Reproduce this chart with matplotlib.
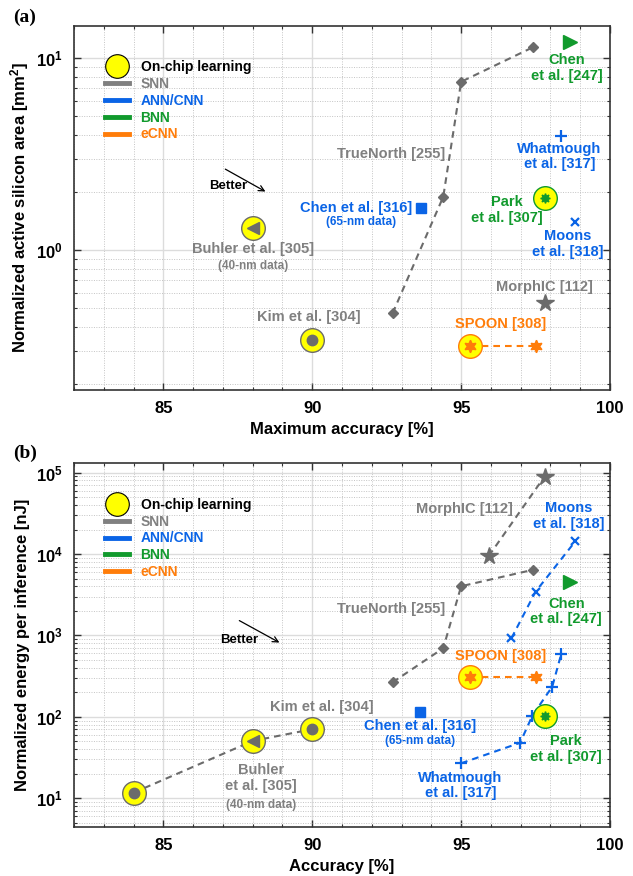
import matplotlib
matplotlib.use("Agg")
import matplotlib.pyplot as plt
from matplotlib.lines import Line2D
from matplotlib.ticker import MultipleLocator, LogLocator, NullFormatter

plt.rcParams['font.family'] = ['Liberation Sans', 'DejaVu Sans']
plt.rcParams['font.weight'] = 'bold'
plt.rcParams['mathtext.fontset'] = 'custom'
plt.rcParams['mathtext.rm'] = 'Liberation Sans:bold'
plt.rcParams['mathtext.bf'] = 'Liberation Sans:bold'
plt.rcParams['mathtext.it'] = 'Liberation Sans:bold'
plt.rcParams['mathtext.default'] = 'bf'

GRAY = '#808080'
GRAYM = '#6b6b6b'
BLUE = '#0a64e6'
GREEN = '#119a2d'
ORANGE = '#ff7d0a'
YELLOW = '#ffff00'

# ---------------- data: panel (a) area ----------------
a_truenorth_x = [92.7, 94.4, 95.0, 97.4]
a_truenorth_y = [0.47, 1.90, 7.55, 11.4]
a_kim = (90.0, 0.34)
a_buhler = (88.0, 1.31)
a_morphic = (97.8, 0.53)
a_spoon_x = [95.3, 97.5]
a_spoon_y = [0.317, 0.317]
a_chen316 = (93.66, 1.67)
a_whatmough = (98.36, 3.93)
a_moons = (98.84, 1.41)
a_park = (97.82, 1.87)
a_chen247 = (98.66, 12.2)

# ---------------- data: panel (b) energy ----------------
b_onchip_snn_x = [84.0, 88.0, 90.0]
b_onchip_snn_y = [11.7, 50.6, 70.5]
b_truenorth_x = [92.7, 94.4, 95.0, 97.4]
b_truenorth_y = [266, 697, 4020, 6380]
b_morphic_x = [95.93, 97.8]
b_morphic_y = [9480, 89300]
b_moons_x = [96.69, 97.5, 98.84]
b_moons_y = [925, 3450, 14400]
b_whatmough_x = [95.0, 96.98, 97.39, 98.06, 98.36]
b_whatmough_y = [26.9, 48, 103, 235, 588]
b_spoon_x = [95.3, 97.5]
b_spoon_y = [312, 312]
b_chen316 = (93.62, 114)
b_park = (97.82, 103)
b_chen247 = (98.66, 4500)

legend_labels = ['On-chip learning', 'SNN', 'ANN/CNN', 'BNN', 'eCNN']
legend_colors = ['black', GRAY, BLUE, GREEN, ORANGE]

fig = plt.figure(figsize=(6.33, 8.76), dpi=100)
axA = fig.add_axes([0.1169, 0.5548, 0.8468, 0.4159])
axB = fig.add_axes([0.1169, 0.0556, 0.8468, 0.4155])

HEX = (6, 1, 0)
AST = (8, 1, 0)
LS = (0, (3.2, 2.4))
LW = 1.5


def onchip(ax, x, y, edge):
    ax.plot([x], [y], 'o', ms=17, mfc=YELLOW, mec=edge, mew=1.0, zorder=3, ls='none')


def style(ax, ylim, xlabel, ylabel):
    ax.set_yscale('log')
    ax.set_xlim(82, 100)
    ax.set_ylim(*ylim)
    ax.xaxis.set_major_locator(MultipleLocator(5))
    ax.xaxis.set_minor_locator(MultipleLocator(1))
    ax.yaxis.set_major_locator(LogLocator(base=10))
    ax.yaxis.set_minor_locator(LogLocator(base=10, subs=range(2, 10)))
    ax.yaxis.set_minor_formatter(NullFormatter())
    ax.grid(True, which='major', color='#dcdcdc', lw=1.0, ls='-')
    ax.grid(True, which='minor', color='#c4c4c4', lw=0.7, ls=(0, (1, 1.5)))
    ax.set_axisbelow(True)
    ax.tick_params(which='both', direction='in', top=True, right=True, color='#333333')
    ax.tick_params(which='major', length=5, width=1.0, labelsize=12, pad=8)
    ax.tick_params(which='minor', length=2.5, width=0.8)
    for s in ax.spines.values():
        s.set_color('#333333')
        s.set_linewidth(1.2)
    ax.set_xlabel(xlabel, fontsize=12, fontweight='bold', labelpad=4)
    ax.set_ylabel(ylabel, fontsize=12, fontweight='bold', labelpad=4)
    for t in ax.get_xticklabels() + ax.get_yticklabels():
        t.set_fontweight('bold')
    handles = [Line2D([], [], marker='o', ms=17, mfc=YELLOW, mec='k', mew=0.8, ls='none')]
    for c in legend_colors[1:]:
        handles.append(Line2D([], [], color=c, lw=3.5))
    leg = ax.legend(handles, legend_labels, loc='upper left', bbox_to_anchor=(0.058, 0.905),
                    frameon=False, handlelength=1.75, handletextpad=0.8,
                    labelspacing=0.2, borderpad=0, borderaxespad=0,
                    prop={'weight': 'bold', 'size': 10})
    for t, c in zip(leg.get_texts(), legend_colors):
        t.set_color(c)


def txt(ax, x, y, s, c, size=10):
    ax.text(x, y, s, color=c, fontsize=size, fontweight='bold', ha='center', va='center',
            multialignment='center', linespacing=1.15)


# ---------------- panel (a) ----------------
ax = axA
ax.plot(a_truenorth_x, a_truenorth_y, color=GRAYM, ls=LS, lw=LW, marker='D', ms=5.5,
        mfc=GRAYM, mec=GRAYM, zorder=2)
onchip(ax, *a_kim, GRAYM)
ax.plot(*a_kim, 'o', color=GRAYM, ms=7.5, zorder=4)
onchip(ax, *a_buhler, GRAYM)
ax.plot(*a_buhler, '<', color=GRAYM, ms=9, zorder=4)
ax.plot(*a_morphic, '*', color=GRAYM, ms=13, zorder=3)
ax.plot(a_spoon_x, a_spoon_y, color=ORANGE, ls=LS, lw=LW, zorder=2)
onchip(ax, a_spoon_x[0], a_spoon_y[0], ORANGE)
ax.plot(a_spoon_x, a_spoon_y, ls='none', marker=HEX, color=ORANGE, ms=9, zorder=4)
ax.plot(*a_chen316, 's', color=BLUE, ms=7, zorder=3)
ax.plot(*a_whatmough, '+', color=BLUE, ms=8, mew=1.6, zorder=3)
ax.plot(*a_moons, 'x', color=BLUE, ms=5.5, mew=1.6, zorder=3)
onchip(ax, *a_park, GREEN)
ax.plot(*a_park, marker=AST, color=GREEN, ms=7, zorder=4, ls='none')
ax.plot(*a_chen247, '>', color=GREEN, ms=10, zorder=3)

txt(ax, 88.0, 1.01, 'Buhler et al. [305]', GRAY, 10.5)
txt(ax, 88.0, 0.826, '(40-nm data)', GRAY, 8.5)
txt(ax, 89.88, 0.449, 'Kim et al. [304]', GRAY, 10.5)
txt(ax, 92.66, 3.16, 'TrueNorth [255]', GRAY, 10.5)
txt(ax, 91.49, 1.67, 'Chen et al. [316]', BLUE, 10.5)
txt(ax, 91.63, 1.41, '(65-nm data)', BLUE, 8.5)
txt(ax, 98.54, 8.9, 'Chen\net al. [247]', GREEN, 10.5)
txt(ax, 98.3, 3.08, 'Whatmough\net al. [317]', BLUE, 10.5)
txt(ax, 96.53, 1.62, 'Park\net al. [307]', GREEN, 10.5)
txt(ax, 98.58, 1.075, 'Moons\net al. [318]', BLUE, 10.5)
txt(ax, 97.8, 0.644, 'MorphIC [112]', GRAY, 10.5)
txt(ax, 96.31, 0.411, 'SPOON [308]', ORANGE, 10.5)
ax.annotate('', xy=(88.51, 1.99), xytext=(87.0, 2.69),
            arrowprops=dict(arrowstyle='->', color='black', lw=0.9))
txt(ax, 87.17, 2.16, 'Better', 'black', 9.5)
style(ax, (0.187, 14.8), 'Maximum accuracy [%]', 'Normalized active silicon area [mm$^2$]')

# ---------------- panel (b) ----------------
ax = axB
ax.plot(b_onchip_snn_x, b_onchip_snn_y, color=GRAYM, ls=LS, lw=LW, zorder=2)
for xx, yy in zip(b_onchip_snn_x, b_onchip_snn_y):
    onchip(ax, xx, yy, GRAYM)
ax.plot([b_onchip_snn_x[0], b_onchip_snn_x[2]], [b_onchip_snn_y[0], b_onchip_snn_y[2]],
        'o', color=GRAYM, ms=7.5, zorder=4, ls='none')
ax.plot(b_onchip_snn_x[1], b_onchip_snn_y[1], '<', color=GRAYM, ms=9, zorder=4)
ax.plot(b_truenorth_x, b_truenorth_y, color=GRAYM, ls=LS, lw=LW, marker='D', ms=5.5,
        mfc=GRAYM, mec=GRAYM, zorder=2)
ax.plot(b_morphic_x, b_morphic_y, color=GRAYM, ls=LS, lw=LW, marker='*', ms=13, zorder=2)
ax.plot(b_moons_x, b_moons_y, color=BLUE, ls=LS, lw=LW, marker='x', ms=5.5, mew=1.6, zorder=2)
ax.plot(b_whatmough_x, b_whatmough_y, color=BLUE, ls=LS, lw=LW, marker='+', ms=8, mew=1.6, zorder=2)
ax.plot(b_spoon_x, b_spoon_y, color=ORANGE, ls=LS, lw=LW, zorder=2)
onchip(ax, b_spoon_x[0], b_spoon_y[0], ORANGE)
ax.plot(b_spoon_x, b_spoon_y, ls='none', marker=HEX, color=ORANGE, ms=9, zorder=4)
ax.plot(*b_chen316, 's', color=BLUE, ms=7, zorder=3)
onchip(ax, *b_park, GREEN)
ax.plot(*b_park, marker=AST, color=GREEN, ms=7, zorder=4, ls='none')
ax.plot(*b_chen247, '>', color=GREEN, ms=10, zorder=3)

txt(ax, 95.11, 36100, 'MorphIC [112]', GRAY, 10.5)
txt(ax, 98.6, 29400, 'Moons\net al. [318]', BLUE, 10.5)
txt(ax, 92.65, 2130, 'TrueNorth [255]', GRAY, 10.5)
txt(ax, 98.53, 1970, 'Chen\net al. [247]', GREEN, 10.5)
txt(ax, 96.31, 560, 'SPOON [308]', ORANGE, 10.5)
txt(ax, 90.31, 133, 'Kim et al. [304]', GRAY, 10.5)
txt(ax, 93.62, 77.3, 'Chen et al. [316]', BLUE, 10.5)
txt(ax, 93.62, 51, '(65-nm data)', BLUE, 8.5)
txt(ax, 98.53, 40.6, 'Park\net al. [307]', GREEN, 10.5)
txt(ax, 94.98, 14.3, 'Whatmough\net al. [317]', BLUE, 10.5)
txt(ax, 88.29, 17.7, 'Buhler\net al. [305]', GRAY, 10.5)
txt(ax, 88.29, 8.2, '(40-nm data)', GRAY, 8.5)
ax.annotate('', xy=(88.98, 787), xytext=(87.47, 1580),
            arrowprops=dict(arrowstyle='->', color='black', lw=0.9))
txt(ax, 87.55, 881, 'Better', 'black', 9.5)
style(ax, (4.4, 1.3e5), 'Accuracy [%]', 'Normalized energy per inference [nJ]')

fig.text(0.02, 0.99, '(a)', fontsize=14, fontweight='bold', family='Liberation Serif', va='top')
fig.text(0.02, 0.492, '(b)', fontsize=14, fontweight='bold', family='Liberation Serif', va='top')

fig.savefig('out.png', dpi=100)
